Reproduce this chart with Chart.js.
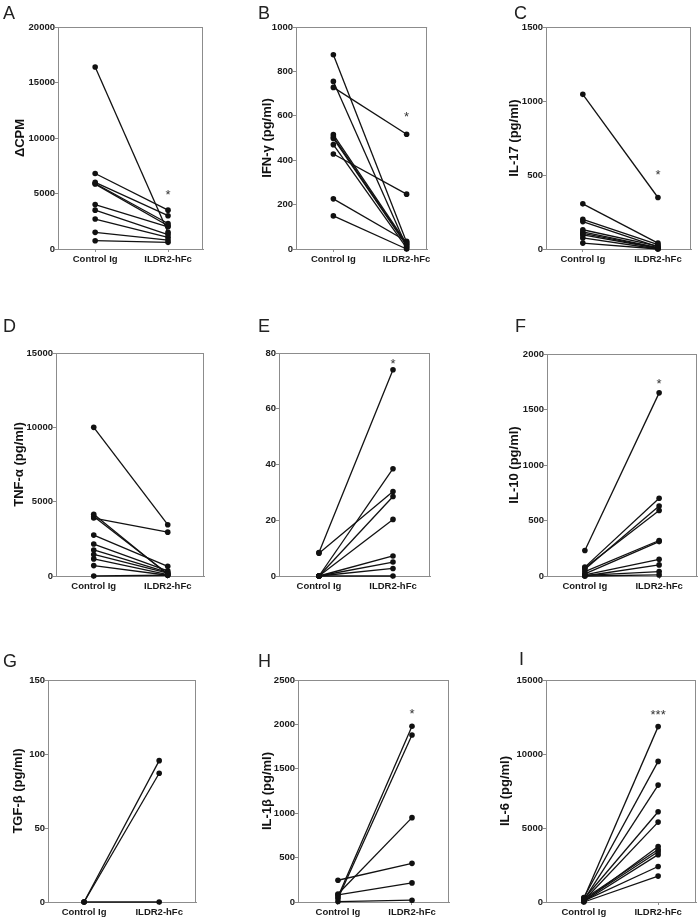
<!DOCTYPE html>
<html>
<head>
<meta charset="utf-8">
<script src="https://cdn.jsdelivr.net/npm/chart.js@4.4.1/dist/chart.umd.min.js"></script>
<style>
body { margin: 0; background: #fff; width: 700px; height: 919px; position: relative; overflow: hidden; font-family: "Liberation Sans", Arial, sans-serif; }
.letter { position: absolute; font-size: 18px; line-height: 18px; color: #222; }
.panel { position: absolute; }
</style>
</head>
<body>
<script>
// ===== Data =====
const groups = ['Control Ig', 'ILDR2-hFc'];

const cpmControl = [16400, 6800, 6000, 5900, 5850, 4000, 3500, 2700, 1500, 750];
const cpmIldr    = [1500, 3500, 3000, 2300, 2100, 2000, 1300, 1050, 800, 600];

const ifnControl = [875, 755, 728, 515, 505, 498, 470, 428, 226, 149];
const ifnIldr    = [30, 10, 517, 25, 20, 15, 5, 247, 35, 0];

const il17Control = [1045, 305, 200, 185, 130, 115, 105, 95, 75, 40];
const il17Ildr    = [348, 40, 30, 15, 20, 10, 8, 5, 0, 0];

const tnfControl = [10000, 4150, 4000, 3900, 2750, 2150, 1750, 1450, 1150, 700, 0];
const tnfIldr    = [3450, 100, 150, 2950, 650, 350, 250, 200, 100, 50, 50];

const eControl = [8.4, 8.2, 0, 0, 0, 0, 0, 0, 0];
const eIldr    = [74, 30.3, 38.5, 28.5, 20.3, 7.2, 5, 2.7, 0];

const il10Control = [230, 80, 60, 75, 40, 20, 10, 0, 5, 0];
const il10Ildr    = [1650, 700, 630, 590, 320, 310, 150, 100, 40, 10];

const tgfControl = [0, 0, 0];
const tgfIldr    = [95.5, 87, 0];

const il1bControl = [60, 40, 90, 245, 80, 5];
const il1bIldr    = [1980, 1880, 950, 435, 215, 20];

const il6Control = [250, 300, 150, 200, 100, 50, 200, 120, 30, 80, 0];
const il6Ildr    = [11850, 9500, 7900, 6100, 5400, 3750, 3550, 3400, 3200, 2400, 1750];

const yTitles = ['\u0394CPM', 'IFN-\u03b3 (pg/ml)', 'IL-17 (pg/ml)', 'TNF-\u03b1 (pg/ml)', '', 'IL-10 (pg/ml)', 'TGF-\u03b2 (pg/ml)', 'IL-1\u03b2 (pg/ml)', 'IL-6 (pg/ml)'];
const yMaxes = [20000, 1000, 1500, 15000, 80, 2000, 150, 2500, 15000];
const ySteps = [5000, 200, 500, 5000, 20, 500, 50, 500, 5000];
const stars = ['*', '*', '*', '', '*', '*', '', '*', '***'];
const starValues = [5225, 612, 527, 0, 77.2, 1757, 0, 2162, 12900];
const letters = ['A', 'B', 'C', 'D', 'E', 'F', 'G', 'H', 'I'];

const controls = [cpmControl, ifnControl, il17Control, tnfControl, eControl, il10Control, tgfControl, il1bControl, il6Control];
const ildrs = [cpmIldr, ifnIldr, il17Ildr, tnfIldr, eIldr, il10Ildr, tgfIldr, il1bIldr, il6Ildr];

// ===== Layout (plot boxes: left, top, right, bottom) =====
const boxes = [
    [58, 27, 203, 249], [296, 27, 429, 249], [546, 27, 691, 249],
    [56, 353, 204, 576], [279, 353, 430, 576], [547, 354, 697, 576],
    [48, 680, 196, 902], [298, 680, 449, 902], [546, 680, 696, 902]
];
const xRanges = [
    [-0.51, 1.48], [-0.51, 1.28], [-0.49, 1.44],
    [-0.51, 1.49], [-0.54, 1.5], [-0.51, 1.51],
    [-0.48, 1.49], [-0.54, 1.5], [-0.51, 1.51]
];
const titleGaps = [38, 29, 32, 37, 0, 33, 30, 31, 41];
const letterPos = [[3, 4], [258, 4], [514, 4], [3, 317], [258, 317], [515, 317], [3, 652], [258, 652], [519, 650]];

const YW = 58, XH = 22, PT = 8, PR = 4;
const AXIS = '#8c8c8c';
const INK = '#111';

// ===== Box + star plugin =====
const panelDeco = {
    id: 'panelDeco',
    afterDraw(chart) {
        const { ctx, chartArea: a, scales } = chart;
        ctx.save();
        ctx.strokeStyle = AXIS;
        ctx.lineWidth = 1;
        ctx.beginPath();
        ctx.moveTo(a.left, Math.round(a.top) + 0.5);
        ctx.lineTo(a.right, Math.round(a.top) + 0.5);
        ctx.moveTo(Math.round(a.right) - 0.5, a.top);
        ctx.lineTo(Math.round(a.right) - 0.5, a.bottom);
        ctx.stroke();
        const s = chart.options.plugins.panelDeco;
        if (s && s.text) {
            ctx.fillStyle = '#333';
            ctx.font = '13px "Liberation Sans", Arial, sans-serif';
            ctx.textAlign = 'center';
            ctx.textBaseline = 'alphabetic';
            const x = scales.x.getPixelForValue(1);
            const y = scales.y.getPixelForValue(s.value);
            ctx.fillText(s.text, x, y + 7.5);
        }
        ctx.restore();
    }
};

function makePanel(i) {
    const b = boxes[i];
    const w = b[2] - b[0] + YW + PR;
    const h = b[3] - b[1] + PT + XH;
    const wrap = document.createElement('div');
    wrap.className = 'panel';
    wrap.style.left = (b[0] - YW) + 'px';
    wrap.style.top = (b[1] - PT) + 'px';
    wrap.style.width = w + 'px';
    wrap.style.height = h + 'px';
    const cv = document.createElement('canvas');
    cv.width = w;
    cv.height = h;
    wrap.appendChild(cv);
    document.body.appendChild(wrap);

    const lt = document.createElement('div');
    lt.className = 'letter';
    lt.textContent = letters[i];
    lt.style.left = letterPos[i][0] + 'px';
    lt.style.top = letterPos[i][1] + 'px';
    document.body.appendChild(lt);

    const datasets = controls[i].map((c, k) => ({
        data: [{ x: 0, y: c }, { x: 1, y: ildrs[i][k] }],
        showLine: true,
        borderColor: INK,
        backgroundColor: INK,
        borderWidth: 1.3,
        pointRadius: 2.8,
        pointBorderWidth: 0,
        pointHoverRadius: 2.8,
        clip: false
    }));

    new Chart(cv, {
        type: 'scatter',
        data: { datasets },
        options: {
            responsive: false,
            animation: false,
            devicePixelRatio: 1,
            events: [],
            layout: { padding: { top: PT, right: PR, left: 0, bottom: 0 } },
            plugins: {
                legend: { display: false },
                tooltip: { enabled: false },
                panelDeco: { text: stars[i], value: starValues[i] }
            },
            scales: {
                x: {
                    type: 'linear',
                    min: xRanges[i][0],
                    max: xRanges[i][1],
                    afterBuildTicks: s => { s.ticks = [{ value: 0 }, { value: 1 }]; },
                    afterFit: s => { s.height = XH; },
                    grid: { drawOnChartArea: false, tickLength: 3, color: AXIS },
                    border: { color: AXIS },
                    ticks: {
                        callback: v => groups[v],
                        maxRotation: 0,
                        padding: 2,
                        color: '#1a1a1a',
                        font: { size: 9.5, weight: 'bold', family: '"Liberation Sans", Arial, sans-serif' }
                    }
                },
                y: {
                    min: 0,
                    max: yMaxes[i],
                    afterFit: s => { s.width = YW; },
                    grid: { drawOnChartArea: false, tickLength: 3, color: AXIS },
                    border: { color: AXIS },
                    ticks: {
                        stepSize: ySteps[i],
                        callback: v => String(v),
                        padding: 0,
                        color: '#1a1a1a',
                        font: { size: 9.5, weight: 'bold', family: '"Liberation Sans", Arial, sans-serif' }
                    },
                    title: {
                        display: yTitles[i] !== '',
                        text: yTitles[i],
                        color: INK,
                        padding: { top: YW - titleGaps[i] - 7.8, bottom: 0 },
                        font: { size: 13, weight: 'bold', family: '"Liberation Sans", Arial, sans-serif' }
                    }
                }
            }
        },
        plugins: [panelDeco]
    });
}

for (let i = 0; i < 9; i++) makePanel(i);
</script>
</body>
</html>
